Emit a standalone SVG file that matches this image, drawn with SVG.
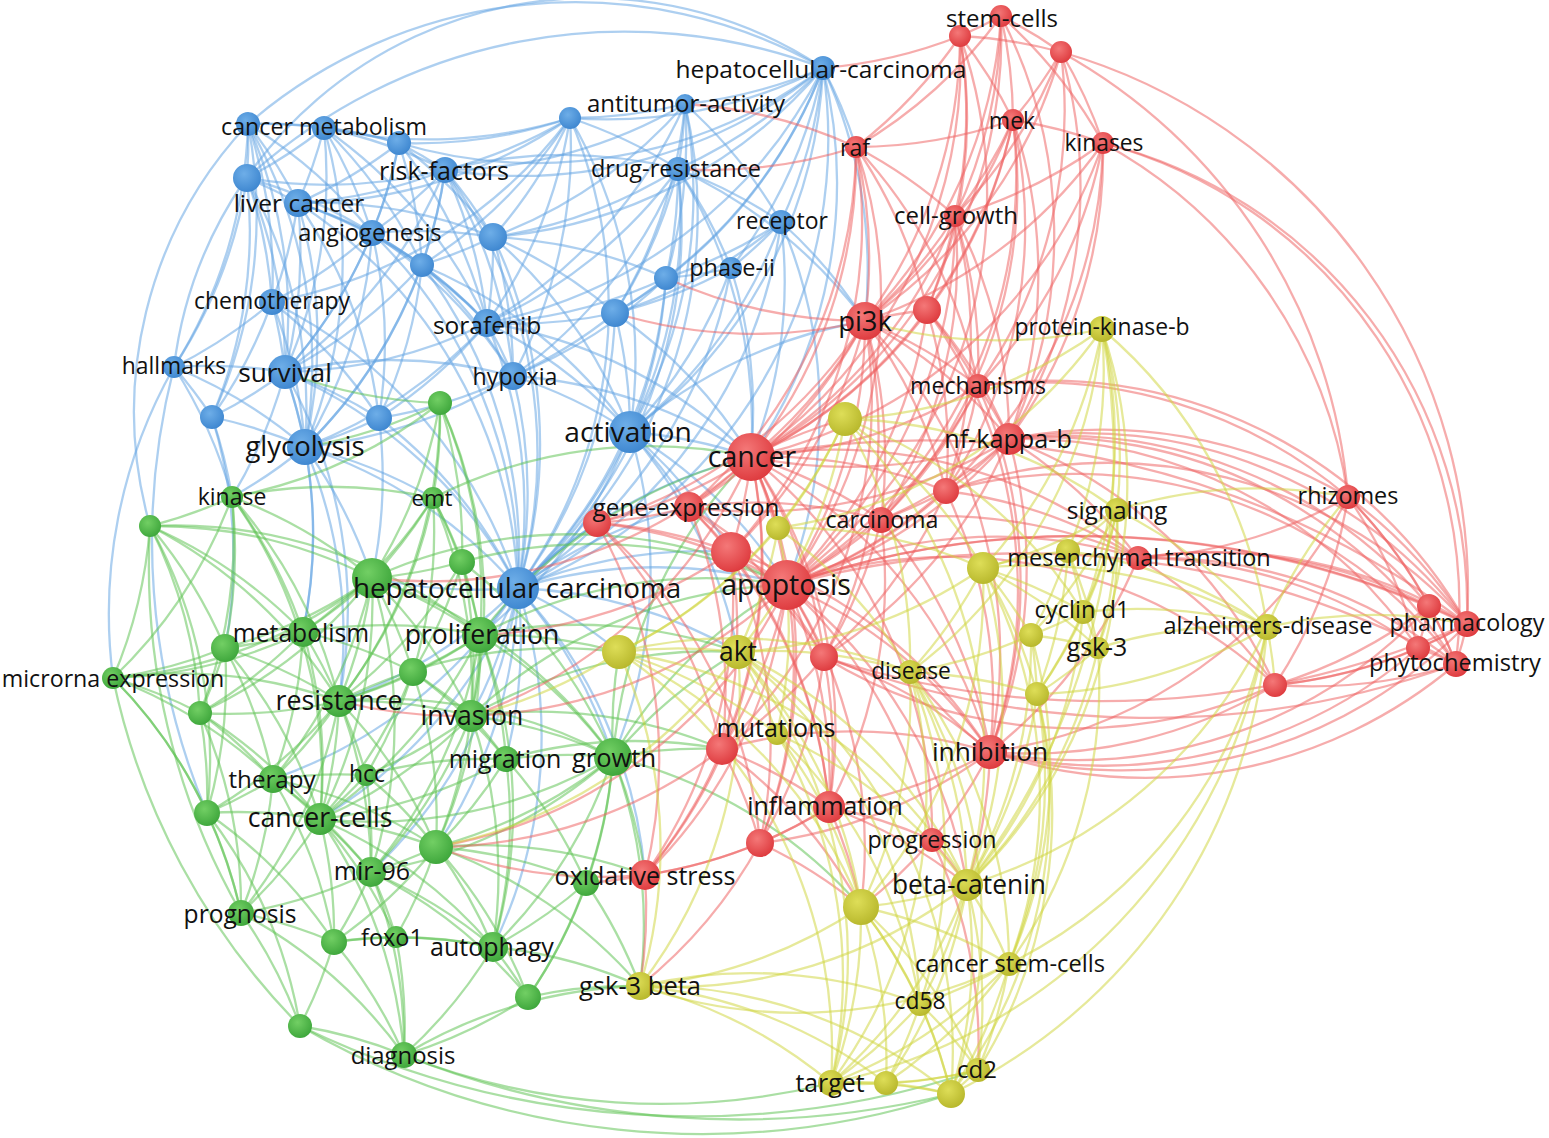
<svg xmlns="http://www.w3.org/2000/svg" width="1549" height="1138" viewBox="0 0 1549 1138">
<style>
.e path{fill:none;stroke-width:2.3;stroke-opacity:.52}
.eb path{stroke:#62a3e2}
.eg path{stroke:#5cc250}
.er path{stroke:#ee6060}
.ey path{stroke:#cfd43e}
.nb{fill:url(#gb)}.nr{fill:url(#gr)}.ng{fill:url(#gg)}.ny{fill:url(#gy)}
text{font-family:'Open Sans','DejaVu Sans',sans-serif;fill:#111;text-anchor:middle;dominant-baseline:central}
</style>
<defs>
<radialGradient id="gb" cx=".4" cy=".35" r=".7"><stop offset="0" stop-color="#6eaee8"/><stop offset="1" stop-color="#3c85cf"/></radialGradient>
<radialGradient id="gr" cx=".4" cy=".35" r=".7"><stop offset="0" stop-color="#f47878"/><stop offset="1" stop-color="#dd383c"/></radialGradient>
<radialGradient id="gg" cx=".4" cy=".35" r=".7"><stop offset="0" stop-color="#72cf64"/><stop offset="1" stop-color="#3ca53a"/></radialGradient>
<radialGradient id="gy" cx=".4" cy=".35" r=".7"><stop offset="0" stop-color="#dede58"/><stop offset="1" stop-color="#b6b62a"/></radialGradient>
</defs>
<rect width="1549" height="1138" fill="#fff"/>
<g id="connectors" class="e">
<g class="eb">
<path d="M823 68A480 480 0 0 1 685 104"/><path d="M823 68A480 480 0 0 1 570 118"/><path d="M823 68A480 480 0 0 1 678 169"/><path d="M823 68A480 480 0 0 1 781 222"/><path d="M823 68A480 480 0 0 1 731 268"/><path d="M823 68A480 480 0 0 1 666 278"/><path d="M823 68A480 480 0 0 1 615 313"/><path d="M823 68A480 480 0 0 1 487 323"/><path d="M823 68A480 480 0 0 1 493 237"/><path d="M823 68A480 480 0 0 1 445 170"/><path d="M823 68A480 480 0 0 1 518 588"/><path d="M823 68A480 480 0 0 1 630 432"/>
<path d="M174 367A420 420 0 0 1 823 68"/><path d="M248 124A500 500 0 0 1 823 68"/><path d="M247 178A560 560 0 0 1 823 68"/><path d="M823 68A480 480 0 0 1 399 143"/><path d="M823 68A480 480 0 0 1 865 321"/><path d="M823 68A480 480 0 0 1 751 457"/><path d="M823 68A480 480 0 0 1 856 147"/>
<path d="M685 104A480 480 0 0 1 570 118"/><path d="M685 104A480 480 0 0 1 678 169"/><path d="M685 104A480 480 0 0 1 781 222"/><path d="M685 104A480 480 0 0 1 666 278"/><path d="M685 104A480 480 0 0 1 615 313"/><path d="M685 104A480 480 0 0 1 487 323"/><path d="M685 104A480 480 0 0 1 493 237"/><path d="M685 104A480 480 0 0 1 518 588"/><path d="M685 104A480 480 0 0 1 630 432"/><path d="M685 104A480 480 0 0 1 445 170"/>
<path d="M570 118A480 480 0 0 1 445 170"/><path d="M570 118A480 480 0 0 1 399 143"/><path d="M570 118A480 480 0 0 1 678 169"/><path d="M570 118A480 480 0 0 1 493 237"/><path d="M570 118A480 480 0 0 1 422 265"/><path d="M570 118A480 480 0 0 1 487 323"/><path d="M570 118A480 480 0 0 1 513 376"/><path d="M570 118A480 480 0 0 1 518 588"/><path d="M570 118A480 480 0 0 1 630 432"/><path d="M570 118A480 480 0 0 1 324 128"/><path d="M570 118A480 480 0 0 1 298 203"/><path d="M570 118A480 480 0 0 1 272 302"/>
<path d="M248 124A480 480 0 0 1 324 128"/><path d="M248 124A480 480 0 0 1 247 178"/><path d="M248 124A480 480 0 0 1 298 203"/><path d="M248 124A480 480 0 0 1 272 302"/><path d="M248 124A480 480 0 0 1 174 367"/><path d="M248 124A480 480 0 0 1 285 372"/><path d="M248 124A480 480 0 0 1 305 447"/><path d="M248 124A480 480 0 0 1 372 233"/><path d="M248 124A480 480 0 0 1 399 143"/><path d="M248 124A480 480 0 0 1 212 417"/><path d="M150 526A420 420 0 0 1 248 124"/>
<path d="M324 128A480 480 0 0 1 399 143"/><path d="M324 128A480 480 0 0 1 247 178"/><path d="M324 128A480 480 0 0 1 298 203"/><path d="M324 128A480 480 0 0 1 372 233"/><path d="M324 128A480 480 0 0 1 445 170"/><path d="M324 128A480 480 0 0 1 285 372"/><path d="M324 128A480 480 0 0 1 305 447"/><path d="M324 128A480 480 0 0 1 422 265"/><path d="M324 128A480 480 0 0 1 487 323"/>
<path d="M399 143A480 480 0 0 1 445 170"/><path d="M399 143A480 480 0 0 1 298 203"/><path d="M399 143A480 480 0 0 1 372 233"/><path d="M399 143A480 480 0 0 1 493 237"/><path d="M399 143A480 480 0 0 1 422 265"/><path d="M399 143A480 480 0 0 1 487 323"/><path d="M399 143A480 480 0 0 1 285 372"/>
<path d="M445 170A480 480 0 0 1 678 169"/><path d="M445 170A480 480 0 0 1 298 203"/><path d="M445 170A480 480 0 0 1 372 233"/><path d="M445 170A480 480 0 0 1 493 237"/><path d="M445 170A480 480 0 0 1 422 265"/><path d="M445 170A480 480 0 0 1 487 323"/><path d="M445 170A480 480 0 0 1 513 376"/><path d="M445 170A480 480 0 0 1 285 372"/><path d="M445 170A480 480 0 0 1 305 447"/><path d="M445 170A480 480 0 0 1 518 588"/><path d="M445 170A480 480 0 0 1 247 178"/>
<path d="M678 169A480 480 0 0 1 781 222"/><path d="M678 169A480 480 0 0 1 731 268"/><path d="M678 169A480 480 0 0 1 666 278"/><path d="M678 169A480 480 0 0 1 615 313"/><path d="M678 169A480 480 0 0 1 487 323"/><path d="M678 169A480 480 0 0 1 493 237"/><path d="M678 169A480 480 0 0 1 630 432"/><path d="M678 169A480 480 0 0 1 518 588"/><path d="M678 169A480 480 0 0 1 513 376"/><path d="M678 169A480 480 0 0 1 751 457"/><path d="M678 169A480 480 0 0 1 865 321"/>
<path d="M247 178A480 480 0 0 1 298 203"/><path d="M247 178A480 480 0 0 1 272 302"/><path d="M247 178A480 480 0 0 1 174 367"/><path d="M247 178A480 480 0 0 1 285 372"/><path d="M247 178A480 480 0 0 1 305 447"/><path d="M247 178A480 480 0 0 1 372 233"/><path d="M247 178A480 480 0 0 1 212 417"/>
<path d="M298 203A480 480 0 0 1 372 233"/><path d="M298 203A480 480 0 0 1 272 302"/><path d="M298 203A480 480 0 0 1 285 372"/><path d="M298 203A480 480 0 0 1 305 447"/><path d="M298 203A480 480 0 0 1 422 265"/><path d="M298 203A480 480 0 0 1 487 323"/><path d="M298 203A480 480 0 0 1 379 418"/><path d="M298 203A480 480 0 0 1 518 588"/><path d="M298 203A480 480 0 0 1 493 237"/>
<path d="M372 233A480 480 0 0 1 422 265"/><path d="M372 233A480 480 0 0 1 487 323"/><path d="M372 233A480 480 0 0 1 285 372"/><path d="M372 233A480 480 0 0 1 305 447"/><path d="M372 233A480 480 0 0 1 379 418"/><path d="M372 233A480 480 0 0 1 513 376"/><path d="M372 233A480 480 0 0 1 518 588"/><path d="M372 233A480 480 0 0 1 493 237"/><path d="M372 233A480 480 0 0 1 272 302"/>
<path d="M493 237A480 480 0 0 1 422 265"/><path d="M493 237A480 480 0 0 1 487 323"/><path d="M493 237A480 480 0 0 1 513 376"/><path d="M493 237A480 480 0 0 1 630 432"/><path d="M493 237A480 480 0 0 1 518 588"/><path d="M493 237A480 480 0 0 1 666 278"/><path d="M493 237A480 480 0 0 1 615 313"/>
<path d="M781 222A480 480 0 0 1 731 268"/><path d="M781 222A480 480 0 0 1 666 278"/><path d="M781 222A480 480 0 0 1 615 313"/><path d="M781 222A480 480 0 0 1 630 432"/><path d="M781 222A480 480 0 0 1 518 588"/><path d="M781 222A480 480 0 0 1 865 321"/><path d="M781 222A480 480 0 0 1 751 457"/><path d="M781 222A480 480 0 0 1 787 585"/>
<path d="M422 265A480 480 0 0 1 487 323"/><path d="M422 265A480 480 0 0 1 513 376"/><path d="M422 265A480 480 0 0 1 379 418"/><path d="M422 265A480 480 0 0 1 305 447"/><path d="M422 265A480 480 0 0 1 518 588"/><path d="M422 265A480 480 0 0 1 285 372"/><path d="M422 265A480 480 0 0 1 630 432"/>
<path d="M731 268A480 480 0 0 1 666 278"/><path d="M731 268A480 480 0 0 1 615 313"/><path d="M731 268A480 480 0 0 1 630 432"/><path d="M731 268A480 480 0 0 1 518 588"/><path d="M731 268A480 480 0 0 1 751 457"/>
<path d="M666 278A480 480 0 0 1 615 313"/><path d="M666 278A480 480 0 0 1 487 323"/><path d="M666 278A480 480 0 0 1 630 432"/><path d="M666 278A480 480 0 0 1 518 588"/><path d="M666 278A480 480 0 0 1 513 376"/>
<path d="M272 302A480 480 0 0 1 174 367"/><path d="M272 302A480 480 0 0 1 285 372"/><path d="M272 302A480 480 0 0 1 305 447"/><path d="M272 302A480 480 0 0 1 212 417"/><path d="M272 302A480 480 0 0 1 379 418"/><path d="M272 302A480 480 0 0 1 518 588"/>
<path d="M615 313A480 480 0 0 1 487 323"/><path d="M615 313A480 480 0 0 1 630 432"/><path d="M615 313A480 480 0 0 1 518 588"/><path d="M615 313A480 480 0 0 1 513 376"/><path d="M615 313A480 480 0 0 1 751 457"/>
<path d="M487 323A480 480 0 0 1 513 376"/><path d="M487 323A480 480 0 0 1 630 432"/><path d="M487 323A480 480 0 0 1 518 588"/><path d="M487 323A480 480 0 0 1 285 372"/><path d="M487 323A480 480 0 0 1 379 418"/><path d="M487 323A480 480 0 0 1 305 447"/><path d="M487 323A480 480 0 0 1 751 457"/>
<path d="M174 367A480 480 0 0 1 285 372"/><path d="M174 367A480 480 0 0 1 212 417"/><path d="M174 367A480 480 0 0 1 305 447"/><path d="M113 678A500 500 0 0 1 174 367"/><path d="M174 367A480 480 0 0 1 232 497"/><path d="M207 813A700 700 0 0 1 174 367"/>
<path d="M285 372A480 480 0 0 1 212 417"/><path d="M285 372A480 480 0 0 1 379 418"/><path d="M285 372A480 480 0 0 1 305 447"/><path d="M285 372A480 480 0 0 1 518 588"/><path d="M285 372A480 480 0 0 1 513 376"/><path d="M285 372A480 480 0 0 1 232 497"/><path d="M285 372A480 480 0 0 1 303 632"/><path d="M285 372A480 480 0 0 1 339 701"/>
<path d="M513 376A480 480 0 0 1 379 418"/><path d="M513 376A480 480 0 0 1 630 432"/><path d="M513 376A480 480 0 0 1 518 588"/><path d="M513 376A480 480 0 0 1 305 447"/><path d="M513 376A480 480 0 0 1 751 457"/>
<path d="M212 417A480 480 0 0 1 305 447"/><path d="M212 417A480 480 0 0 1 232 497"/><path d="M212 417A480 480 0 0 1 225 648"/><path d="M379 418A480 480 0 0 1 305 447"/><path d="M379 418A480 480 0 0 1 518 588"/><path d="M379 418A480 480 0 0 1 372 578"/>
<path d="M630 432A480 480 0 0 1 518 588"/><path d="M630 432A480 480 0 0 1 751 457"/><path d="M630 432A480 480 0 0 1 787 585"/><path d="M630 432A480 480 0 0 1 689 507"/><path d="M630 432A480 480 0 0 1 731 552"/><path d="M630 432A480 480 0 0 1 738 652"/><path d="M630 432A480 480 0 0 1 480 635"/><path d="M630 432A480 480 0 0 1 613 757"/><path d="M630 432A480 480 0 0 1 865 321"/>
<path d="M305 447A480 480 0 0 1 518 588"/><path d="M305 447A480 480 0 0 1 232 497"/><path d="M305 447A480 480 0 0 1 372 578"/><path d="M305 447A480 480 0 0 1 303 632"/><path d="M305 447A480 480 0 0 1 339 701"/><path d="M305 447A480 480 0 0 1 433 498"/>
<path d="M518 588A480 480 0 0 1 372 578"/><path d="M518 588A480 480 0 0 1 480 635"/><path d="M518 588A480 480 0 0 1 471 716"/><path d="M518 588A480 480 0 0 1 613 757"/><path d="M518 588A480 480 0 0 1 320 819"/><path d="M518 588A480 480 0 0 1 787 585"/><path d="M518 588A480 480 0 0 1 751 457"/><path d="M518 588A480 480 0 0 1 731 552"/><path d="M518 588A480 480 0 0 1 738 652"/><path d="M518 588A480 480 0 0 1 339 701"/><path d="M518 588A480 480 0 0 1 436 847"/><path d="M518 588A480 480 0 0 1 506 759"/><path d="M518 588A480 480 0 0 1 689 507"/><path d="M518 588A480 480 0 0 1 597 523"/><path d="M518 588A480 480 0 0 1 619 652"/><path d="M518 588A480 480 0 0 1 371 872"/><path d="M518 588A480 480 0 0 1 493 947"/><path d="M518 588A480 480 0 0 1 645 875"/><path d="M518 588A480 480 0 0 1 273 779"/>
</g>
<g class="eg">
<path d="M440 403A480 480 0 0 1 433 498"/><path d="M440 403A480 480 0 0 1 462 562"/><path d="M440 403A480 480 0 0 1 372 578"/><path d="M440 403A480 480 0 0 1 480 635"/><path d="M440 403A480 480 0 0 1 305 447"/><path d="M440 403A480 480 0 0 1 471 716"/><path d="M440 403A480 480 0 0 1 339 701"/><path d="M440 403A480 480 0 0 1 285 372"/><path d="M440 403A480 480 0 0 1 232 497"/>
<path d="M232 497A480 480 0 0 1 150 526"/><path d="M232 497A480 480 0 0 1 372 578"/><path d="M232 497A480 480 0 0 1 303 632"/><path d="M232 497A480 480 0 0 1 225 648"/><path d="M232 497A480 480 0 0 1 339 701"/><path d="M232 497A480 480 0 0 1 433 498"/><path d="M232 497A480 480 0 0 1 113 678"/><path d="M232 497A480 480 0 0 1 200 713"/><path d="M232 497A480 480 0 0 1 320 819"/>
<path d="M433 498A480 480 0 0 1 462 562"/><path d="M433 498A480 480 0 0 1 372 578"/><path d="M433 498A480 480 0 0 1 480 635"/><path d="M433 498A480 480 0 0 1 471 716"/><path d="M433 498A480 480 0 0 1 339 701"/><path d="M433 498A480 480 0 0 1 303 632"/><path d="M433 498A480 480 0 0 1 413 672"/><path d="M433 498A480 480 0 0 1 751 457"/>
<path d="M150 526A480 480 0 0 1 225 648"/><path d="M150 526A480 480 0 0 1 113 678"/><path d="M150 526A480 480 0 0 1 200 713"/><path d="M150 526A480 480 0 0 1 207 813"/><path d="M150 526A480 480 0 0 1 303 632"/><path d="M150 526A480 480 0 0 1 339 701"/><path d="M150 526A480 480 0 0 1 372 578"/><path d="M241 913A700 700 0 0 1 150 526"/><path d="M150 526A480 480 0 0 1 480 635"/>
<path d="M462 562A480 480 0 0 1 372 578"/><path d="M462 562A480 480 0 0 1 480 635"/><path d="M462 562A480 480 0 0 1 413 672"/><path d="M462 562A480 480 0 0 1 471 716"/><path d="M462 562A480 480 0 0 1 613 757"/><path d="M462 562A480 480 0 0 1 339 701"/><path d="M462 562A480 480 0 0 1 787 585"/>
<path d="M372 578A480 480 0 0 1 303 632"/><path d="M372 578A480 480 0 0 1 225 648"/><path d="M372 578A480 480 0 0 1 480 635"/><path d="M372 578A480 480 0 0 1 413 672"/><path d="M372 578A480 480 0 0 1 339 701"/><path d="M372 578A480 480 0 0 1 471 716"/><path d="M372 578A480 480 0 0 1 273 779"/><path d="M372 578A480 480 0 0 1 320 819"/><path d="M372 578A480 480 0 0 1 613 757"/><path d="M372 578A480 480 0 0 1 200 713"/><path d="M372 578A480 480 0 0 1 787 585"/><path d="M372 578A480 480 0 0 1 371 872"/><path d="M372 578A480 480 0 0 1 113 678"/>
<path d="M303 632A480 480 0 0 1 225 648"/><path d="M303 632A480 480 0 0 1 339 701"/><path d="M303 632A480 480 0 0 1 480 635"/><path d="M303 632A480 480 0 0 1 273 779"/><path d="M303 632A480 480 0 0 1 320 819"/><path d="M303 632A480 480 0 0 1 200 713"/><path d="M303 632A480 480 0 0 1 413 672"/><path d="M303 632A480 480 0 0 1 113 678"/>
<path d="M225 648A480 480 0 0 1 113 678"/><path d="M225 648A480 480 0 0 1 339 701"/><path d="M225 648A480 480 0 0 1 200 713"/><path d="M225 648A480 480 0 0 1 273 779"/><path d="M225 648A480 480 0 0 1 207 813"/><path d="M225 648A480 480 0 0 1 320 819"/>
<path d="M480 635A480 480 0 0 1 413 672"/><path d="M480 635A480 480 0 0 1 339 701"/><path d="M480 635A480 480 0 0 1 471 716"/><path d="M480 635A480 480 0 0 1 506 759"/><path d="M480 635A480 480 0 0 1 613 757"/><path d="M480 635A480 480 0 0 1 320 819"/><path d="M480 635A480 480 0 0 1 436 847"/><path d="M480 635A480 480 0 0 1 787 585"/><path d="M480 635A480 480 0 0 1 751 457"/><path d="M480 635A480 480 0 0 1 738 652"/><path d="M480 635A480 480 0 0 1 371 872"/><path d="M480 635A480 480 0 0 1 493 947"/>
<path d="M113 678A480 480 0 0 1 200 713"/><path d="M113 678A480 480 0 0 1 207 813"/><path d="M113 678A480 480 0 0 1 241 913"/><path d="M113 678A480 480 0 0 1 273 779"/><path d="M300 1026A700 700 0 0 1 113 678"/><path d="M113 678A480 480 0 0 1 339 701"/>
<path d="M413 672A480 480 0 0 1 339 701"/><path d="M413 672A480 480 0 0 1 471 716"/><path d="M413 672A480 480 0 0 1 506 759"/><path d="M413 672A480 480 0 0 1 320 819"/><path d="M413 672A480 480 0 0 1 436 847"/><path d="M413 672A480 480 0 0 1 366 775"/>
<path d="M339 701A480 480 0 0 1 200 713"/><path d="M339 701A480 480 0 0 1 471 716"/><path d="M339 701A480 480 0 0 1 273 779"/><path d="M339 701A480 480 0 0 1 366 775"/><path d="M339 701A480 480 0 0 1 320 819"/><path d="M339 701A480 480 0 0 1 436 847"/><path d="M339 701A480 480 0 0 1 371 872"/><path d="M339 701A480 480 0 0 1 613 757"/><path d="M339 701A480 480 0 0 1 241 913"/><path d="M339 701A480 480 0 0 1 207 813"/>
<path d="M200 713A480 480 0 0 1 273 779"/><path d="M200 713A480 480 0 0 1 207 813"/><path d="M200 713A480 480 0 0 1 320 819"/><path d="M200 713A480 480 0 0 1 241 913"/>
<path d="M471 716A480 480 0 0 1 366 775"/><path d="M471 716A480 480 0 0 1 506 759"/><path d="M471 716A480 480 0 0 1 613 757"/><path d="M471 716A480 480 0 0 1 320 819"/><path d="M471 716A480 480 0 0 1 436 847"/><path d="M471 716A480 480 0 0 1 371 872"/><path d="M471 716A480 480 0 0 1 493 947"/><path d="M471 716A480 480 0 0 1 787 585"/><path d="M471 716A480 480 0 0 1 722 749"/>
<path d="M273 779A480 480 0 0 1 366 775"/><path d="M273 779A480 480 0 0 1 207 813"/><path d="M273 779A480 480 0 0 1 320 819"/><path d="M273 779A480 480 0 0 1 371 872"/><path d="M273 779A480 480 0 0 1 241 913"/><path d="M273 779A480 480 0 0 1 334 942"/><path d="M273 779A480 480 0 0 1 436 847"/>
<path d="M366 775A480 480 0 0 1 320 819"/><path d="M366 775A480 480 0 0 1 436 847"/><path d="M366 775A480 480 0 0 1 371 872"/><path d="M366 775A480 480 0 0 1 506 759"/>
<path d="M506 759A480 480 0 0 1 613 757"/><path d="M506 759A480 480 0 0 1 436 847"/><path d="M506 759A480 480 0 0 1 586 883"/><path d="M506 759A480 480 0 0 1 493 947"/><path d="M506 759A480 480 0 0 1 320 819"/>
<path d="M613 757A480 480 0 0 1 436 847"/><path d="M613 757A480 480 0 0 1 586 883"/><path d="M613 757A480 480 0 0 1 493 947"/><path d="M613 757A480 480 0 0 1 787 585"/><path d="M613 757A480 480 0 0 1 722 749"/><path d="M613 757A480 480 0 0 1 738 652"/><path d="M613 757A480 480 0 0 1 751 457"/><path d="M613 757A480 480 0 0 1 528 997"/><path d="M613 757A480 480 0 0 1 371 872"/><path d="M613 757A480 480 0 0 1 645 875"/><path d="M613 757A480 480 0 0 1 619 652"/><path d="M613 757A480 480 0 0 1 320 819"/><path d="M613 757A480 480 0 0 1 861 907"/><path d="M613 757A480 480 0 0 1 640 986"/>
<path d="M207 813A480 480 0 0 1 320 819"/><path d="M207 813A480 480 0 0 1 241 913"/><path d="M207 813A480 480 0 0 1 300 1026"/><path d="M207 813A480 480 0 0 1 334 942"/>
<path d="M320 819A480 480 0 0 1 436 847"/><path d="M320 819A480 480 0 0 1 371 872"/><path d="M320 819A480 480 0 0 1 241 913"/><path d="M320 819A480 480 0 0 1 334 942"/><path d="M320 819A480 480 0 0 1 396 937"/><path d="M320 819A480 480 0 0 1 493 947"/><path d="M320 819A480 480 0 0 1 404 1055"/>
<path d="M436 847A480 480 0 0 1 371 872"/><path d="M436 847A480 480 0 0 1 586 883"/><path d="M436 847A480 480 0 0 1 396 937"/><path d="M436 847A480 480 0 0 1 493 947"/><path d="M436 847A480 480 0 0 1 528 997"/><path d="M436 847A480 480 0 0 1 334 942"/><path d="M436 847A480 480 0 0 1 640 986"/><path d="M436 847A480 480 0 0 1 645 875"/>
<path d="M371 872A480 480 0 0 1 241 913"/><path d="M371 872A480 480 0 0 1 334 942"/><path d="M371 872A480 480 0 0 1 396 937"/><path d="M371 872A480 480 0 0 1 493 947"/><path d="M371 872A480 480 0 0 1 404 1055"/><path d="M371 872A480 480 0 0 1 528 997"/>
<path d="M586 883A480 480 0 0 1 493 947"/><path d="M586 883A480 480 0 0 1 528 997"/><path d="M586 883A480 480 0 0 1 640 986"/>
<path d="M241 913A480 480 0 0 1 334 942"/><path d="M241 913A480 480 0 0 1 300 1026"/><path d="M241 913A480 480 0 0 1 404 1055"/><path d="M334 942A480 480 0 0 1 396 937"/><path d="M334 942A480 480 0 0 1 300 1026"/><path d="M334 942A480 480 0 0 1 404 1055"/><path d="M334 942A480 480 0 0 1 493 947"/>
<path d="M396 937A480 480 0 0 1 493 947"/><path d="M396 937A480 480 0 0 1 404 1055"/><path d="M493 947A480 480 0 0 1 528 997"/><path d="M493 947A480 480 0 0 1 404 1055"/><path d="M493 947A480 480 0 0 1 640 986"/><path d="M528 997A480 480 0 0 1 404 1055"/><path d="M528 997A480 480 0 0 1 640 986"/><path d="M300 1026A480 480 0 0 1 404 1055"/>
<path d="M951 1094A800 800 0 0 1 300 1026"/><path d="M831 1083A700 700 0 0 1 404 1055"/><path d="M951 1094A900 900 0 0 1 404 1055"/><path d="M978 1070A900 900 0 0 1 300 1026"/><path d="M404 1055A480 480 0 0 1 640 986"/>
<path d="M471 716A480 480 0 0 1 738 652"/><path d="M480 635A480 480 0 0 1 619 652"/><path d="M339 701A480 480 0 0 1 619 652"/><path d="M506 759A480 480 0 0 1 722 749"/>
</g>
<g class="er">
<path d="M685 104A480 480 0 0 1 856 147"/>
<path d="M1001 16A480 480 0 0 1 960 36"/><path d="M1001 16A480 480 0 0 1 1061 52"/><path d="M1001 16A480 480 0 0 1 1013 120"/><path d="M1001 16A480 480 0 0 1 856 147"/><path d="M1001 16A480 480 0 0 1 1103 143"/><path d="M1001 16A480 480 0 0 1 955 216"/><path d="M1001 16A480 480 0 0 1 865 321"/><path d="M1001 16A480 480 0 0 1 751 457"/><path d="M1001 16A480 480 0 0 1 1009 439"/>
<path d="M960 36A480 480 0 0 1 1061 52"/><path d="M960 36A480 480 0 0 1 1013 120"/><path d="M960 36A480 480 0 0 1 856 147"/><path d="M960 36A480 480 0 0 1 955 216"/><path d="M960 36A480 480 0 0 1 865 321"/><path d="M960 36A480 480 0 0 1 751 457"/><path d="M960 36A480 480 0 0 1 927 310"/><path d="M960 36A480 480 0 0 1 823 68"/><path d="M960 36A480 480 0 0 1 787 585"/>
<path d="M1061 52A480 480 0 0 1 1013 120"/><path d="M1061 52A480 480 0 0 1 1103 143"/><path d="M1061 52A480 480 0 0 1 955 216"/><path d="M1061 52A480 480 0 0 1 865 321"/><path d="M1061 52A480 480 0 0 1 1009 439"/><path d="M1061 52A560 560 0 0 1 1348 497"/><path d="M1061 52A560 560 0 0 1 1467 624"/><path d="M1061 52A480 480 0 0 1 978 386"/>
<path d="M1013 120A480 480 0 0 1 856 147"/><path d="M1013 120A480 480 0 0 1 1103 143"/><path d="M1013 120A480 480 0 0 1 955 216"/><path d="M1013 120A480 480 0 0 1 865 321"/><path d="M1013 120A480 480 0 0 1 927 310"/><path d="M1013 120A480 480 0 0 1 751 457"/><path d="M1013 120A480 480 0 0 1 1009 439"/><path d="M1013 120A480 480 0 0 1 881 520"/><path d="M1013 120A480 480 0 0 1 787 585"/><path d="M1013 120A480 480 0 0 1 946 491"/>
<path d="M856 147A480 480 0 0 1 955 216"/><path d="M856 147A480 480 0 0 1 865 321"/><path d="M856 147A480 480 0 0 1 927 310"/><path d="M856 147A480 480 0 0 1 751 457"/><path d="M856 147A480 480 0 0 1 787 585"/><path d="M856 147A480 480 0 0 1 689 507"/><path d="M856 147A480 480 0 0 1 678 169"/><path d="M856 147A480 480 0 0 1 731 552"/><path d="M856 147A480 480 0 0 1 978 386"/>
<path d="M1103 143A480 480 0 0 1 955 216"/><path d="M1103 143A480 480 0 0 1 865 321"/><path d="M1103 143A480 480 0 0 1 1009 439"/><path d="M1103 143A480 480 0 0 1 1348 497"/><path d="M1103 143A480 480 0 0 1 1467 624"/><path d="M1103 143A480 480 0 0 1 1456 664"/><path d="M1103 143A480 480 0 0 1 978 386"/><path d="M1103 143A480 480 0 0 1 751 457"/><path d="M1103 143A480 480 0 0 1 787 585"/>
<path d="M955 216A480 480 0 0 1 865 321"/><path d="M955 216A480 480 0 0 1 927 310"/><path d="M955 216A480 480 0 0 1 978 386"/><path d="M955 216A480 480 0 0 1 1009 439"/><path d="M955 216A480 480 0 0 1 751 457"/><path d="M955 216A480 480 0 0 1 787 585"/><path d="M955 216A480 480 0 0 1 946 491"/><path d="M955 216A480 480 0 0 1 881 520"/>
<path d="M865 321A480 480 0 0 1 927 310"/><path d="M865 321A480 480 0 0 1 978 386"/><path d="M865 321A480 480 0 0 1 1009 439"/><path d="M865 321A480 480 0 0 1 751 457"/><path d="M865 321A480 480 0 0 1 946 491"/><path d="M865 321A480 480 0 0 1 689 507"/><path d="M865 321A480 480 0 0 1 881 520"/><path d="M865 321A480 480 0 0 1 731 552"/><path d="M865 321A480 480 0 0 1 787 585"/><path d="M865 321A480 480 0 0 1 824 657"/><path d="M865 321A480 480 0 0 1 990 752"/><path d="M865 321A480 480 0 0 1 597 523"/><path d="M865 321A480 480 0 0 1 722 749"/><path d="M865 321A480 480 0 0 1 615 313"/><path d="M865 321A480 480 0 0 1 666 278"/>
<path d="M927 310A480 480 0 0 1 978 386"/><path d="M927 310A480 480 0 0 1 1009 439"/><path d="M927 310A480 480 0 0 1 751 457"/><path d="M927 310A480 480 0 0 1 787 585"/><path d="M927 310A480 480 0 0 1 990 752"/><path d="M927 310A480 480 0 0 1 946 491"/>
<path d="M978 386A480 480 0 0 1 1009 439"/><path d="M978 386A480 480 0 0 1 751 457"/><path d="M978 386A480 480 0 0 1 787 585"/><path d="M978 386A480 480 0 0 1 946 491"/><path d="M978 386A480 480 0 0 1 1348 497"/><path d="M978 386A480 480 0 0 1 1467 624"/><path d="M978 386A480 480 0 0 1 881 520"/><path d="M978 386A480 480 0 0 1 990 752"/>
<path d="M1009 439A480 480 0 0 1 751 457"/><path d="M1009 439A480 480 0 0 1 946 491"/><path d="M1009 439A480 480 0 0 1 881 520"/><path d="M1009 439A480 480 0 0 1 787 585"/><path d="M1009 439A480 480 0 0 1 1348 497"/><path d="M1009 439A480 480 0 0 1 1138 558"/><path d="M1009 439A480 480 0 0 1 1429 606"/><path d="M1009 439A480 480 0 0 1 1467 624"/><path d="M1009 439A480 480 0 0 1 1456 664"/><path d="M1009 439A480 480 0 0 1 1275 685"/><path d="M1009 439A480 480 0 0 1 990 752"/><path d="M1009 439A480 480 0 0 1 824 657"/><path d="M1009 439A480 480 0 0 1 1418 648"/><path d="M1009 439A480 480 0 0 1 689 507"/>
<path d="M751 457A480 480 0 0 1 946 491"/><path d="M751 457A480 480 0 0 1 689 507"/><path d="M751 457A480 480 0 0 1 597 523"/><path d="M751 457A480 480 0 0 1 881 520"/><path d="M751 457A480 480 0 0 1 731 552"/><path d="M751 457A480 480 0 0 1 787 585"/><path d="M751 457A480 480 0 0 1 824 657"/><path d="M751 457A480 480 0 0 1 722 749"/><path d="M751 457A480 480 0 0 1 990 752"/><path d="M751 457A480 480 0 0 1 829 807"/><path d="M751 457A480 480 0 0 1 760 843"/><path d="M751 457A480 480 0 0 1 645 875"/><path d="M751 457A480 480 0 0 1 845 419"/><path d="M751 457A480 480 0 0 1 778 528"/><path d="M751 457A480 480 0 0 1 471 716"/><path d="M751 457A480 480 0 0 1 1138 558"/><path d="M751 457A900 900 0 0 1 1467 624"/><path d="M751 457A480 480 0 0 1 932 840"/><path d="M751 457A480 480 0 0 1 372 578"/>
<path d="M946 491A480 480 0 0 1 881 520"/><path d="M946 491A480 480 0 0 1 787 585"/><path d="M946 491A480 480 0 0 1 990 752"/><path d="M946 491A480 480 0 0 1 1138 558"/><path d="M946 491A480 480 0 0 1 1467 624"/><path d="M946 491A480 480 0 0 1 1456 664"/><path d="M946 491A480 480 0 0 1 824 657"/>
<path d="M689 507A480 480 0 0 1 597 523"/><path d="M689 507A480 480 0 0 1 731 552"/><path d="M689 507A480 480 0 0 1 787 585"/><path d="M689 507A480 480 0 0 1 881 520"/><path d="M689 507A480 480 0 0 1 824 657"/><path d="M689 507A480 480 0 0 1 722 749"/><path d="M689 507A480 480 0 0 1 829 807"/>
<path d="M597 523A480 480 0 0 1 731 552"/><path d="M597 523A480 480 0 0 1 787 585"/><path d="M597 523A480 480 0 0 1 722 749"/><path d="M597 523A480 480 0 0 1 645 875"/><path d="M597 523A480 480 0 0 1 760 843"/>
<path d="M881 520A480 480 0 0 1 787 585"/><path d="M881 520A480 480 0 0 1 990 752"/><path d="M881 520A480 480 0 0 1 824 657"/><path d="M881 520A480 480 0 0 1 1138 558"/><path d="M881 520A480 480 0 0 1 829 807"/>
<path d="M731 552A480 480 0 0 1 787 585"/><path d="M731 552A480 480 0 0 1 824 657"/><path d="M731 552A480 480 0 0 1 722 749"/><path d="M731 552A480 480 0 0 1 829 807"/><path d="M731 552A480 480 0 0 1 760 843"/><path d="M731 552A480 480 0 0 1 645 875"/><path d="M731 552A480 480 0 0 1 990 752"/><path d="M731 552A480 480 0 0 1 480 635"/>
<path d="M787 585A480 480 0 0 1 824 657"/><path d="M787 585A480 480 0 0 1 722 749"/><path d="M787 585A480 480 0 0 1 990 752"/><path d="M787 585A480 480 0 0 1 829 807"/><path d="M787 585A480 480 0 0 1 760 843"/><path d="M787 585A480 480 0 0 1 932 840"/><path d="M787 585A480 480 0 0 1 645 875"/><path d="M787 585A480 480 0 0 1 1138 558"/><path d="M787 585A480 480 0 0 1 1275 685"/><path d="M787 585A900 900 0 0 1 1467 624"/><path d="M787 585A900 900 0 0 1 1456 664"/><path d="M787 585A900 900 0 0 1 1429 606"/><path d="M787 585A480 480 0 0 1 967 885"/><path d="M787 585A480 480 0 0 1 861 907"/><path d="M787 585A480 480 0 0 1 339 701"/><path d="M787 585A480 480 0 0 1 436 847"/>
<path d="M1348 497A480 480 0 0 1 1429 606"/><path d="M1348 497A480 480 0 0 1 1467 624"/><path d="M1348 497A480 480 0 0 1 1418 648"/><path d="M1348 497A480 480 0 0 1 1456 664"/><path d="M1348 497A480 480 0 0 1 1275 685"/><path d="M1348 497A480 480 0 0 1 1138 558"/><path d="M1348 497A480 480 0 0 1 990 752"/>
<path d="M1138 558A480 480 0 0 1 1429 606"/><path d="M1138 558A480 480 0 0 1 1467 624"/><path d="M1138 558A480 480 0 0 1 1456 664"/><path d="M1138 558A480 480 0 0 1 1275 685"/><path d="M1138 558A480 480 0 0 1 990 752"/><path d="M1138 558A480 480 0 0 1 1418 648"/>
<path d="M1429 606A480 480 0 0 1 1467 624"/><path d="M1429 606A480 480 0 0 1 1418 648"/><path d="M1429 606A480 480 0 0 1 1456 664"/><path d="M1429 606A480 480 0 0 1 1275 685"/><path d="M1429 606A480 480 0 0 1 990 752"/>
<path d="M1467 624A480 480 0 0 1 1418 648"/><path d="M1467 624A480 480 0 0 1 1456 664"/><path d="M1467 624A480 480 0 0 1 1275 685"/><path d="M1467 624A480 480 0 0 1 990 752"/><path d="M1467 624A900 900 0 0 1 824 657"/>
<path d="M1418 648A480 480 0 0 1 1456 664"/><path d="M1418 648A480 480 0 0 1 1275 685"/><path d="M1418 648A480 480 0 0 1 990 752"/><path d="M1456 664A480 480 0 0 1 1275 685"/><path d="M1456 664A480 480 0 0 1 990 752"/><path d="M1456 664A900 900 0 0 1 824 657"/><path d="M1275 685A480 480 0 0 1 990 752"/><path d="M1275 685A480 480 0 0 1 824 657"/>
<path d="M824 657A480 480 0 0 1 722 749"/><path d="M824 657A480 480 0 0 1 990 752"/><path d="M824 657A480 480 0 0 1 829 807"/><path d="M824 657A480 480 0 0 1 760 843"/>
<path d="M722 749A480 480 0 0 1 829 807"/><path d="M722 749A480 480 0 0 1 760 843"/><path d="M722 749A480 480 0 0 1 645 875"/><path d="M722 749A480 480 0 0 1 990 752"/><path d="M722 749A480 480 0 0 1 861 907"/><path d="M722 749A480 480 0 0 1 436 847"/>
<path d="M990 752A480 480 0 0 1 829 807"/><path d="M990 752A480 480 0 0 1 932 840"/><path d="M990 752A480 480 0 0 1 760 843"/><path d="M990 752A480 480 0 0 1 967 885"/><path d="M990 752A480 480 0 0 1 910 672"/>
<path d="M829 807A480 480 0 0 1 760 843"/><path d="M829 807A480 480 0 0 1 932 840"/><path d="M829 807A480 480 0 0 1 645 875"/><path d="M829 807A480 480 0 0 1 861 907"/><path d="M829 807A480 480 0 0 1 967 885"/>
<path d="M760 843A480 480 0 0 1 645 875"/><path d="M760 843A480 480 0 0 1 861 907"/><path d="M760 843A480 480 0 0 1 640 986"/><path d="M932 840A480 480 0 0 1 967 885"/><path d="M932 840A480 480 0 0 1 861 907"/><path d="M932 840A480 480 0 0 1 978 1070"/><path d="M645 875A480 480 0 0 1 640 986"/><path d="M645 875A480 480 0 0 1 586 883"/><path d="M645 875A480 480 0 0 1 436 847"/>
</g>
<g class="ey">
<path d="M1102 329A480 480 0 0 1 845 419"/><path d="M1102 329A480 480 0 0 1 1117 510"/><path d="M1102 329A480 480 0 0 1 983 568"/><path d="M1102 329A480 480 0 0 1 1083 612"/><path d="M1102 329A480 480 0 0 1 1098 648"/><path d="M1102 329A480 480 0 0 1 1068 551"/><path d="M1102 329A480 480 0 0 1 910 672"/><path d="M1102 329A480 480 0 0 1 1267 627"/><path d="M1102 329A700 700 0 0 1 967 885"/><path d="M1102 329A480 480 0 0 1 778 528"/><path d="M1102 329A480 480 0 0 1 865 321"/>
<path d="M845 419A480 480 0 0 1 778 528"/><path d="M845 419A480 480 0 0 1 983 568"/><path d="M845 419A480 480 0 0 1 738 652"/><path d="M845 419A480 480 0 0 1 619 652"/><path d="M845 419A480 480 0 0 1 910 672"/><path d="M845 419A480 480 0 0 1 1117 510"/><path d="M845 419A480 480 0 0 1 1083 612"/><path d="M845 419A480 480 0 0 1 967 885"/>
<path d="M778 528A480 480 0 0 1 619 652"/><path d="M778 528A480 480 0 0 1 738 652"/><path d="M778 528A480 480 0 0 1 983 568"/><path d="M778 528A480 480 0 0 1 910 672"/><path d="M778 528A480 480 0 0 1 777 734"/>
<path d="M1117 510A480 480 0 0 1 983 568"/><path d="M1117 510A480 480 0 0 1 1068 551"/><path d="M1117 510A480 480 0 0 1 1083 612"/><path d="M1117 510A480 480 0 0 1 1098 648"/><path d="M1117 510A480 480 0 0 1 1031 635"/><path d="M1117 510A480 480 0 0 1 1037 694"/><path d="M1117 510A480 480 0 0 1 1267 627"/><path d="M1117 510A480 480 0 0 1 967 885"/><path d="M1117 510A480 480 0 0 1 1348 497"/>
<path d="M983 568A480 480 0 0 1 1068 551"/><path d="M983 568A480 480 0 0 1 1083 612"/><path d="M983 568A480 480 0 0 1 1031 635"/><path d="M983 568A480 480 0 0 1 1098 648"/><path d="M983 568A480 480 0 0 1 910 672"/><path d="M983 568A480 480 0 0 1 1037 694"/><path d="M983 568A480 480 0 0 1 967 885"/><path d="M983 568A480 480 0 0 1 738 652"/><path d="M983 568A480 480 0 0 1 1267 627"/><path d="M983 568A480 480 0 0 1 861 907"/><path d="M983 568A480 480 0 0 1 1009 964"/>
<path d="M1068 551A480 480 0 0 1 1083 612"/><path d="M1068 551A480 480 0 0 1 1031 635"/><path d="M1068 551A480 480 0 0 1 1098 648"/><path d="M1068 551A480 480 0 0 1 1267 627"/><path d="M1068 551A480 480 0 0 1 1037 694"/>
<path d="M619 652A480 480 0 0 1 738 652"/><path d="M619 652A480 480 0 0 1 910 672"/><path d="M619 652A480 480 0 0 1 777 734"/><path d="M619 652A480 480 0 0 1 861 907"/><path d="M619 652A480 480 0 0 1 640 986"/><path d="M619 652A480 480 0 0 1 967 885"/><path d="M619 652A480 480 0 0 1 831 1083"/><path d="M619 652A480 480 0 0 1 471 716"/>
<path d="M738 652A480 480 0 0 1 910 672"/><path d="M738 652A480 480 0 0 1 777 734"/><path d="M738 652A480 480 0 0 1 967 885"/><path d="M738 652A480 480 0 0 1 861 907"/><path d="M738 652A480 480 0 0 1 640 986"/><path d="M738 652A480 480 0 0 1 831 1083"/><path d="M738 652A480 480 0 0 1 920 1004"/><path d="M738 652A480 480 0 0 1 951 1094"/><path d="M738 652A480 480 0 0 1 436 847"/>
<path d="M1083 612A480 480 0 0 1 1031 635"/><path d="M1083 612A480 480 0 0 1 1098 648"/><path d="M1083 612A480 480 0 0 1 1037 694"/><path d="M1083 612A480 480 0 0 1 1267 627"/><path d="M1083 612A480 480 0 0 1 967 885"/>
<path d="M1031 635A480 480 0 0 1 1098 648"/><path d="M1031 635A480 480 0 0 1 1037 694"/><path d="M1031 635A480 480 0 0 1 910 672"/><path d="M1031 635A480 480 0 0 1 967 885"/><path d="M1031 635A480 480 0 0 1 1009 964"/>
<path d="M1098 648A480 480 0 0 1 1037 694"/><path d="M1098 648A480 480 0 0 1 1267 627"/><path d="M1098 648A480 480 0 0 1 967 885"/><path d="M1098 648A480 480 0 0 1 1009 964"/>
<path d="M1267 627A480 480 0 0 1 1037 694"/><path d="M1267 627A480 480 0 0 1 967 885"/><path d="M1267 627A480 480 0 0 1 1009 964"/><path d="M1267 627A560 560 0 0 1 951 1094"/><path d="M1267 627A560 560 0 0 1 831 1083"/><path d="M1267 627A480 480 0 0 1 1275 685"/><path d="M1267 627A480 480 0 0 1 1467 624"/><path d="M1267 627A480 480 0 0 1 1348 497"/>
<path d="M910 672A480 480 0 0 1 1037 694"/><path d="M910 672A480 480 0 0 1 967 885"/><path d="M910 672A480 480 0 0 1 861 907"/><path d="M910 672A480 480 0 0 1 920 1004"/><path d="M910 672A480 480 0 0 1 1009 964"/><path d="M910 672A480 480 0 0 1 831 1083"/><path d="M910 672A480 480 0 0 1 951 1094"/>
<path d="M1037 694A480 480 0 0 1 967 885"/><path d="M1037 694A480 480 0 0 1 1009 964"/><path d="M1037 694A480 480 0 0 1 978 1070"/><path d="M1037 694A480 480 0 0 1 951 1094"/>
<path d="M777 734A480 480 0 0 1 861 907"/><path d="M777 734A480 480 0 0 1 967 885"/><path d="M777 734A480 480 0 0 1 831 1083"/><path d="M777 734A480 480 0 0 1 920 1004"/>
<path d="M967 885A480 480 0 0 1 861 907"/><path d="M967 885A480 480 0 0 1 1009 964"/><path d="M967 885A480 480 0 0 1 920 1004"/><path d="M967 885A480 480 0 0 1 978 1070"/><path d="M967 885A480 480 0 0 1 831 1083"/><path d="M967 885A480 480 0 0 1 886 1083"/><path d="M967 885A480 480 0 0 1 951 1094"/><path d="M967 885A480 480 0 0 1 640 986"/>
<path d="M861 907A480 480 0 0 1 1009 964"/><path d="M861 907A480 480 0 0 1 640 986"/><path d="M861 907A480 480 0 0 1 920 1004"/><path d="M861 907A480 480 0 0 1 978 1070"/><path d="M861 907A480 480 0 0 1 831 1083"/><path d="M861 907A480 480 0 0 1 886 1083"/><path d="M861 907A480 480 0 0 1 951 1094"/>
<path d="M1009 964A480 480 0 0 1 920 1004"/><path d="M1009 964A480 480 0 0 1 978 1070"/><path d="M1009 964A480 480 0 0 1 831 1083"/><path d="M1009 964A480 480 0 0 1 886 1083"/><path d="M1009 964A480 480 0 0 1 951 1094"/><path d="M1009 964A480 480 0 0 1 640 986"/>
<path d="M640 986A480 480 0 0 1 831 1083"/><path d="M640 986A480 480 0 0 1 886 1083"/><path d="M640 986A480 480 0 0 1 951 1094"/><path d="M640 986A480 480 0 0 1 920 1004"/>
<path d="M920 1004A480 480 0 0 1 978 1070"/><path d="M920 1004A480 480 0 0 1 831 1083"/><path d="M920 1004A480 480 0 0 1 886 1083"/><path d="M920 1004A480 480 0 0 1 951 1094"/>
<path d="M978 1070A480 480 0 0 1 831 1083"/><path d="M978 1070A480 480 0 0 1 886 1083"/><path d="M978 1070A480 480 0 0 1 951 1094"/><path d="M831 1083A480 480 0 0 1 886 1083"/><path d="M831 1083A480 480 0 0 1 951 1094"/><path d="M886 1083A480 480 0 0 1 951 1094"/>
</g>
</g>
<g id="nodes">
<g id="n-b3"><circle class="nb" cx="570" cy="118" r="11"/></g>
<g id="n-b4"><circle class="nb" cx="248" cy="124" r="12"/></g>
<g id="n-b6"><circle class="nb" cx="399" cy="143" r="12"/></g>
<g id="n-b9"><circle class="nb" cx="247" cy="178" r="14"/></g>
<g id="n-b12"><circle class="nb" cx="493" cy="237" r="14"/></g>
<g id="n-b14"><circle class="nb" cx="422" cy="265" r="12"/></g>
<g id="n-b16"><circle class="nb" cx="666" cy="278" r="12"/></g>
<g id="n-b18"><circle class="nb" cx="615" cy="313" r="14"/></g>
<g id="n-b23"><circle class="nb" cx="212" cy="417" r="12"/></g>
<g id="n-b24"><circle class="nb" cx="379" cy="418" r="13"/></g>
<g id="n-g1"><circle class="ng" cx="440" cy="403" r="12"/></g>
<g id="n-g4"><circle class="ng" cx="150" cy="526" r="11"/></g>
<g id="n-g5"><circle class="ng" cx="462" cy="562" r="13"/></g>
<g id="n-g6"><circle class="ng" cx="372" cy="578" r="20"/></g>
<g id="n-g8"><circle class="ng" cx="225" cy="648" r="14"/></g>
<g id="n-g11"><circle class="ng" cx="413" cy="672" r="14"/></g>
<g id="n-g13"><circle class="ng" cx="200" cy="713" r="12"/></g>
<g id="n-g19"><circle class="ng" cx="207" cy="813" r="13"/></g>
<g id="n-g21"><circle class="ng" cx="436" cy="847" r="17"/></g>
<g id="n-g23"><circle class="ng" cx="586" cy="883" r="13"/></g>
<g id="n-g25"><circle class="ng" cx="334" cy="942" r="13"/></g>
<g id="n-g28"><circle class="ng" cx="528" cy="997" r="13"/></g>
<g id="n-g29"><circle class="ng" cx="300" cy="1026" r="12"/></g>
<g id="n-r2"><circle class="nr" cx="960" cy="36" r="11"/></g>
<g id="n-r3"><circle class="nr" cx="1061" cy="52" r="11"/></g>
<g id="n-r9"><circle class="nr" cx="927" cy="310" r="14"/></g>
<g id="n-r13"><circle class="nr" cx="946" cy="491" r="13"/></g>
<g id="n-r15"><circle class="nr" cx="597" cy="523" r="14"/></g>
<g id="n-r17"><circle class="nr" cx="731" cy="552" r="20"/></g>
<g id="n-r21"><circle class="nr" cx="1429" cy="606" r="12"/></g>
<g id="n-r23"><circle class="nr" cx="1418" cy="648" r="12"/></g>
<g id="n-r25"><circle class="nr" cx="1275" cy="685" r="12"/></g>
<g id="n-r26"><circle class="nr" cx="824" cy="657" r="14"/></g>
<g id="n-r27"><circle class="nr" cx="722" cy="749" r="16"/></g>
<g id="n-r30"><circle class="nr" cx="760" cy="843" r="14"/></g>
<g id="n-y2"><circle class="ny" cx="845" cy="419" r="17"/></g>
<g id="n-y3"><circle class="ny" cx="778" cy="528" r="12"/></g>
<g id="n-y5"><circle class="ny" cx="983" cy="568" r="16"/></g>
<g id="n-y6"><circle class="ny" cx="1068" cy="551" r="12"/></g>
<g id="n-y7"><circle class="ny" cx="619" cy="652" r="17"/></g>
<g id="n-y10"><circle class="ny" cx="1031" cy="635" r="12"/></g>
<g id="n-y14"><circle class="ny" cx="1037" cy="694" r="12"/></g>
<g id="n-y17"><circle class="ny" cx="861" cy="907" r="18"/></g>
<g id="n-y23"><circle class="ny" cx="886" cy="1083" r="12"/></g>
<g id="n-y24"><circle class="ny" cx="951" cy="1094" r="14"/></g>

<g id="n-hepatocellular-carcinoma-1"><circle class="nb" cx="823" cy="68" r="12"/><text x="821" y="68" font-size="24.5">hepatocellular-carcinoma</text></g>
<g id="n-antitumor-activity"><circle class="nb" cx="685" cy="104" r="10"/><text x="686" y="102" font-size="24">antitumor-activity</text></g>
<g id="n-cancer-metabolism"><circle class="nb" cx="324" cy="128" r="12"/><text x="324" y="126" font-size="23.2">cancer metabolism</text></g>
<g id="n-risk-factors"><circle class="nb" cx="445" cy="170" r="13"/><text x="444" y="170" font-size="25">risk-factors</text></g>
<g id="n-drug-resistance"><circle class="nb" cx="678" cy="169" r="12"/><text x="676" y="168" font-size="23.5">drug-resistance</text></g>
<g id="n-liver-cancer"><circle class="nb" cx="298" cy="203" r="14"/><text x="299" y="202" font-size="24.5">liver cancer</text></g>
<g id="n-angiogenesis"><circle class="nb" cx="372" cy="233" r="13"/><text x="370" y="232" font-size="23.7">angiogenesis</text></g>
<g id="n-receptor"><circle class="nb" cx="781" cy="222" r="12"/><text x="782" y="220" font-size="23">receptor</text></g>
<g id="n-phase-ii"><circle class="nb" cx="731" cy="268" r="11"/><text x="732" y="267" font-size="23.5">phase-ii</text></g>
<g id="n-chemotherapy"><circle class="nb" cx="272" cy="302" r="13"/><text x="272" y="300" font-size="23">chemotherapy</text></g>
<g id="n-sorafenib"><circle class="nb" cx="487" cy="323" r="14"/><text x="487" y="324" font-size="24.5">sorafenib</text></g>
<g id="n-hallmarks"><circle class="nb" cx="174" cy="367" r="11"/><text x="174" y="365" font-size="22.9">hallmarks</text></g>
<g id="n-survival"><circle class="nb" cx="285" cy="372" r="17"/><text x="285" y="372" font-size="26.3">survival</text></g>
<g id="n-hypoxia"><circle class="nb" cx="513" cy="376" r="14"/><text x="515" y="376" font-size="23.2">hypoxia</text></g>
<g id="n-activation"><circle class="nb" cx="630" cy="432" r="21"/><text x="628" y="431" font-size="28.2">activation</text></g>
<g id="n-glycolysis"><circle class="nb" cx="305" cy="447" r="18"/><text x="305" y="445" font-size="27.5">glycolysis</text></g>
<g id="n-hepatocellular-carcinoma-2"><circle class="nb" cx="518" cy="588" r="21"/><text x="517" y="587" font-size="27.8">hepatocellular carcinoma</text></g>

<g id="n-kinase"><circle class="ng" cx="232" cy="497" r="11"/><text x="232" y="496" font-size="23">kinase</text></g>
<g id="n-emt"><circle class="ng" cx="433" cy="498" r="11"/><text x="432" y="497" font-size="22.2">emt</text></g>
<g id="n-metabolism"><circle class="ng" cx="303" cy="632" r="15"/><text x="301" y="632" font-size="24.7">metabolism</text></g>
<g id="n-proliferation"><circle class="ng" cx="480" cy="635" r="18"/><text x="482" y="634" font-size="26.6">proliferation</text></g>
<g id="n-microrna-expression"><circle class="ng" cx="113" cy="678" r="11"/><text x="113" y="678" font-size="23.2">microrna expression</text></g>
<g id="n-resistance"><circle class="ng" cx="339" cy="701" r="16"/><text x="339" y="699" font-size="26.8">resistance</text></g>
<g id="n-invasion"><circle class="ng" cx="471" cy="716" r="16"/><text x="472" y="715" font-size="26.6">invasion</text></g>
<g id="n-therapy"><circle class="ng" cx="273" cy="779" r="14"/><text x="272" y="778" font-size="24.1">therapy</text></g>
<g id="n-hcc"><circle class="ng" cx="366" cy="775" r="11"/><text x="367" y="773" font-size="23">hcc</text></g>
<g id="n-migration"><circle class="ng" cx="506" cy="759" r="13"/><text x="505" y="758" font-size="25">migration</text></g>
<g id="n-growth"><circle class="ng" cx="613" cy="757" r="19"/><text x="614" y="757" font-size="25.5">growth</text></g>
<g id="n-cancer-cells"><circle class="ng" cx="320" cy="819" r="16"/><text x="320" y="817" font-size="26.6">cancer-cells</text></g>
<g id="n-mir-96"><circle class="ng" cx="371" cy="872" r="15"/><text x="372" y="870" font-size="25">mir-96</text></g>
<g id="n-prognosis"><circle class="ng" cx="241" cy="913" r="13"/><text x="240" y="913" font-size="24.6">prognosis</text></g>
<g id="n-foxo1"><circle class="ng" cx="396" cy="937" r="11"/><text x="392" y="937" font-size="23.5">foxo1</text></g>
<g id="n-autophagy"><circle class="ng" cx="493" cy="947" r="15"/><text x="492" y="946" font-size="25">autophagy</text></g>
<g id="n-diagnosis"><circle class="ng" cx="404" cy="1055" r="13"/><text x="403" y="1054" font-size="23.9">diagnosis</text></g>

<g id="n-stem-cells"><circle class="nr" cx="1001" cy="16" r="11"/><text x="1002" y="17" font-size="24">stem-cells</text></g>
<g id="n-mek"><circle class="nr" cx="1013" cy="120" r="11"/><text x="1012" y="120" font-size="23">mek</text></g>
<g id="n-raf"><circle class="nr" cx="856" cy="147" r="11"/><text x="855" y="147" font-size="23">raf</text></g>
<g id="n-kinases"><circle class="nr" cx="1103" cy="143" r="11"/><text x="1104" y="142" font-size="22.8">kinases</text></g>
<g id="n-cell-growth"><circle class="nr" cx="955" cy="216" r="11"/><text x="956" y="214" font-size="24">cell-growth</text></g>
<g id="n-pi3k"><circle class="nr" cx="865" cy="321" r="19"/><text x="865" y="320" font-size="27.4">pi3k</text></g>
<g id="n-mechanisms"><circle class="nr" cx="978" cy="386" r="12"/><text x="978" y="385" font-size="23.1">mechanisms</text></g>
<g id="n-nf-kappa-b"><circle class="nr" cx="1009" cy="439" r="16"/><text x="1008" y="438" font-size="25.2">nf-kappa-b</text></g>
<g id="n-cancer"><circle class="nr" cx="751" cy="457" r="24"/><text x="752" y="456" font-size="28.5">cancer</text></g>
<g id="n-gene-expression"><circle class="nr" cx="689" cy="507" r="15"/><text x="686" y="506" font-size="24.3">gene-expression</text></g>
<g id="n-carcinoma"><circle class="nr" cx="881" cy="520" r="13"/><text x="882" y="519" font-size="23.2">carcinoma</text></g>
<g id="n-apoptosis"><circle class="nr" cx="787" cy="585" r="25"/><text x="786" y="584" font-size="28.5">apoptosis</text></g>
<g id="n-rhizomes"><circle class="nr" cx="1348" cy="497" r="12"/><text x="1348" y="495" font-size="23.4">rhizomes</text></g>
<g id="n-mesenchymal-transition"><circle class="nr" cx="1138" cy="558" r="12"/><text x="1139" y="557" font-size="23.5">mesenchymal transition</text></g>
<g id="n-pharmacology"><circle class="nr" cx="1467" cy="624" r="13"/><text x="1467" y="622" font-size="23.3">pharmacology</text></g>
<g id="n-phytochemistry"><circle class="nr" cx="1456" cy="664" r="13"/><text x="1455" y="662" font-size="23.7">phytochemistry</text></g>
<g id="n-inhibition"><circle class="nr" cx="990" cy="752" r="17"/><text x="990" y="751" font-size="26.3">inhibition</text></g>
<g id="n-inflammation"><circle class="nr" cx="829" cy="807" r="16"/><text x="825" y="805" font-size="24.9">inflammation</text></g>
<g id="n-progression"><circle class="nr" cx="932" cy="840" r="12"/><text x="932" y="839" font-size="23.2">progression</text></g>
<g id="n-oxidative-stress"><circle class="nr" cx="645" cy="875" r="15"/><text x="645" y="875" font-size="25">oxidative stress</text></g>

<g id="n-protein-kinase-b"><circle class="ny" cx="1102" cy="329" r="13"/><text x="1102" y="326" font-size="22.9">protein-kinase-b</text></g>
<g id="n-signaling"><circle class="ny" cx="1117" cy="510" r="12"/><text x="1117" y="509" font-size="24.5">signaling</text></g>
<g id="n-akt"><circle class="ny" cx="738" cy="652" r="17"/><text x="738" y="651" font-size="26.4">akt</text></g>
<g id="n-cyclin-d1"><circle class="ny" cx="1083" cy="612" r="12"/><text x="1082" y="609" font-size="23.6">cyclin d1</text></g>
<g id="n-gsk-3"><circle class="ny" cx="1098" cy="648" r="11"/><text x="1097" y="646" font-size="24.9">gsk-3</text></g>
<g id="n-alzheimers-disease"><circle class="ny" cx="1267" cy="627" r="13"/><text x="1268" y="625" font-size="23.5">alzheimers-disease</text></g>
<g id="n-disease"><circle class="ny" cx="910" cy="672" r="12"/><text x="911" y="670" font-size="22.8">disease</text></g>
<g id="n-mutations"><circle class="ny" cx="777" cy="734" r="11"/><text x="776" y="727" font-size="25">mutations</text></g>
<g id="n-beta-catenin"><circle class="ny" cx="967" cy="885" r="16"/><text x="969" y="884" font-size="26.4">beta-catenin</text></g>
<g id="n-cancer-stem-cells"><circle class="ny" cx="1009" cy="964" r="12"/><text x="1010" y="963" font-size="23.7">cancer stem-cells</text></g>
<g id="n-gsk-3-beta"><circle class="ny" cx="640" cy="986" r="14"/><text x="640" y="985" font-size="25.5">gsk-3 beta</text></g>
<g id="n-cd58"><circle class="ny" cx="920" cy="1004" r="12"/><text x="920" y="1000" font-size="22.8">cd58</text></g>
<g id="n-cd2"><circle class="ny" cx="978" cy="1070" r="12"/><text x="977" y="1068" font-size="24">cd2</text></g>
<g id="n-target"><circle class="ny" cx="831" cy="1083" r="13"/><text x="830" y="1082" font-size="24.8">target</text></g>
</g>
</svg>
